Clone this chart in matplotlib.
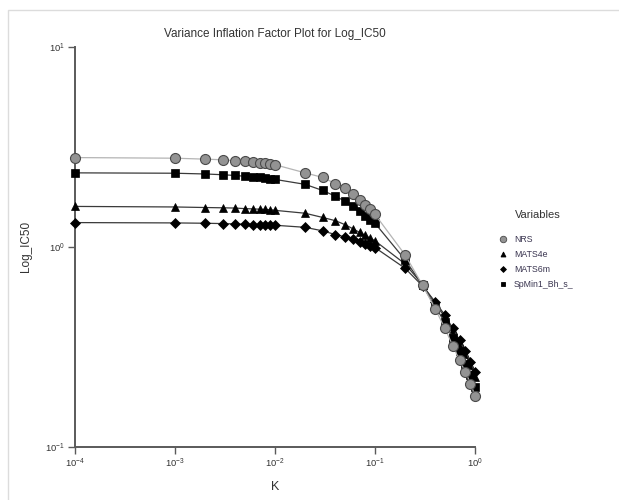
import matplotlib
matplotlib.use("Agg")
import matplotlib.pyplot as plt
from matplotlib.lines import Line2D
from matplotlib.patches import Rectangle
import matplotlib.ticker as mticker

plt.rcParams['font.family'] = ['Liberation Sans', 'DejaVu Sans']

# Ridge parameter K
k_values = [1e-4,
            0.001, 0.002, 0.003, 0.004, 0.005, 0.006, 0.007, 0.008, 0.009, 0.010,
            0.02, 0.03, 0.04, 0.05, 0.06, 0.07, 0.08, 0.09, 0.10,
            0.2, 0.3, 0.4, 0.5, 0.6, 0.7, 0.8, 0.9, 1.0]

nrs = [2.79,
       2.77, 2.74, 2.72, 2.69, 2.67, 2.65, 2.63, 2.61, 2.59, 2.57,
       2.34, 2.22, 2.07, 1.96, 1.83, 1.72, 1.62, 1.54, 1.45,
       0.91, 0.64, 0.49, 0.39, 0.32, 0.27, 0.237, 0.207, 0.18]

mats4e = [1.59,
          1.58, 1.57, 1.565, 1.56, 1.55, 1.545, 1.54, 1.535, 1.53, 1.52,
          1.47, 1.40, 1.35, 1.29, 1.23, 1.18, 1.14, 1.10, 1.07,
          0.82, 0.645, 0.52, 0.445, 0.385, 0.33, 0.29, 0.255, 0.222]

mats6m = [1.32,
          1.315, 1.31, 1.305, 1.30, 1.295, 1.29, 1.29, 1.285, 1.28, 1.28,
          1.25, 1.20, 1.15, 1.12, 1.09, 1.06, 1.03, 1.01, 0.99,
          0.78, 0.635, 0.53, 0.455, 0.39, 0.34, 0.30, 0.265, 0.235]

spmin1 = [2.34,
          2.33, 2.31, 2.29, 2.27, 2.25, 2.24, 2.22, 2.21, 2.19, 2.17,
          2.05, 1.91, 1.79, 1.69, 1.59, 1.50, 1.42, 1.36, 1.31,
          0.86, 0.64, 0.50, 0.42, 0.35, 0.30, 0.26, 0.228, 0.198]

series_names = ["NRS", "MATS4e", "MATS6m", "SpMin1_Bh_s_"]

W, H = 619, 500
fig = plt.figure(figsize=(W / 100, H / 100), dpi=100)
fig.patch.set_facecolor('white')

# thin frame around the plotting page
fig.patches.append(Rectangle((8 / W, -0.1), 1.2, (H - 10) / H + 0.1,
                             transform=fig.transFigure, fill=False,
                             edgecolor='#dcdcdc', linewidth=1.0))

ax = fig.add_axes([75 / W, (H - 446.7) / H, 400 / W, 400 / H])
ax.set_xscale('log')
ax.set_yscale('log')
ax.set_xlim(1e-4, 1.0)
ax.set_ylim(1e-1, 1e1)

styles = [
    dict(marker='o', ms=7.2, mfc='#939393', mec='#4a4a4a', mew=0.8,
         color='#b4b4b4', lw=0.9),
    dict(marker='^', ms=5.5, mfc='black', mec='black', mew=0.5,
         color='#3a3a3a', lw=0.9),
    dict(marker='D', ms=4.6, mfc='black', mec='black', mew=0.5,
         color='#3a3a3a', lw=0.9),
    dict(marker='s', ms=5.2, mfc='black', mec='black', mew=0.5,
         color='#3a3a3a', lw=0.9),
]

data = [nrs, mats4e, mats6m, spmin1]
# draw in an order that keeps the grey spheres readable on top at the right
for idx in [1, 2, 3, 0]:
    ax.plot(k_values, data[idx], clip_on=False, zorder=3 + (idx == 0),
            **styles[idx])

for side in ['top', 'right']:
    ax.spines[side].set_visible(False)
for side in ['left', 'bottom']:
    ax.spines[side].set_color('#5a5a5a')
    ax.spines[side].set_linewidth(1.4)

ax.xaxis.set_major_locator(mticker.LogLocator(base=10, numticks=10))
ax.yaxis.set_major_locator(mticker.LogLocator(base=10, numticks=10))
ax.xaxis.set_minor_locator(mticker.NullLocator())
ax.yaxis.set_minor_locator(mticker.NullLocator())
ax.tick_params(axis='both', which='major', length=5, width=1.0,
               color='#5a5a5a', labelsize=6.8, labelcolor='#333333',
               direction='out', pad=2)

ax.set_title("Variance Inflation Factor Plot for Log_IC50", fontsize=8.5,
             color='#333333', pad=7)
ax.set_xlabel("K", fontsize=9, color='#333333', labelpad=8)
ax.set_ylabel("Log_IC50", fontsize=8.5, color='#333333', labelpad=10)

# legend: heading placed on its own, entries below it
fig.text(538 / W, 1 - 215 / H, "Variables", fontsize=8, color='#333333',
         ha='center', va='center')
handles = [Line2D([], [], linestyle='none', marker=s['marker'],
                  ms=s['ms'] * 0.65, mfc=s['mfc'], mec=s['mec'], mew=0.6)
           for s in styles]
leg = fig.legend(handles, series_names,
                 loc='upper left', bbox_to_anchor=(493 / W, 1 - 228.5 / H),
                 frameon=False, fontsize=6.3,
                 handlelength=0.8, handletextpad=0.9, labelspacing=0.7,
                 borderpad=0.2)
for t in leg.get_texts():
    t.set_color('#3a3550')

fig.savefig("out.png", dpi=100, facecolor='white')
